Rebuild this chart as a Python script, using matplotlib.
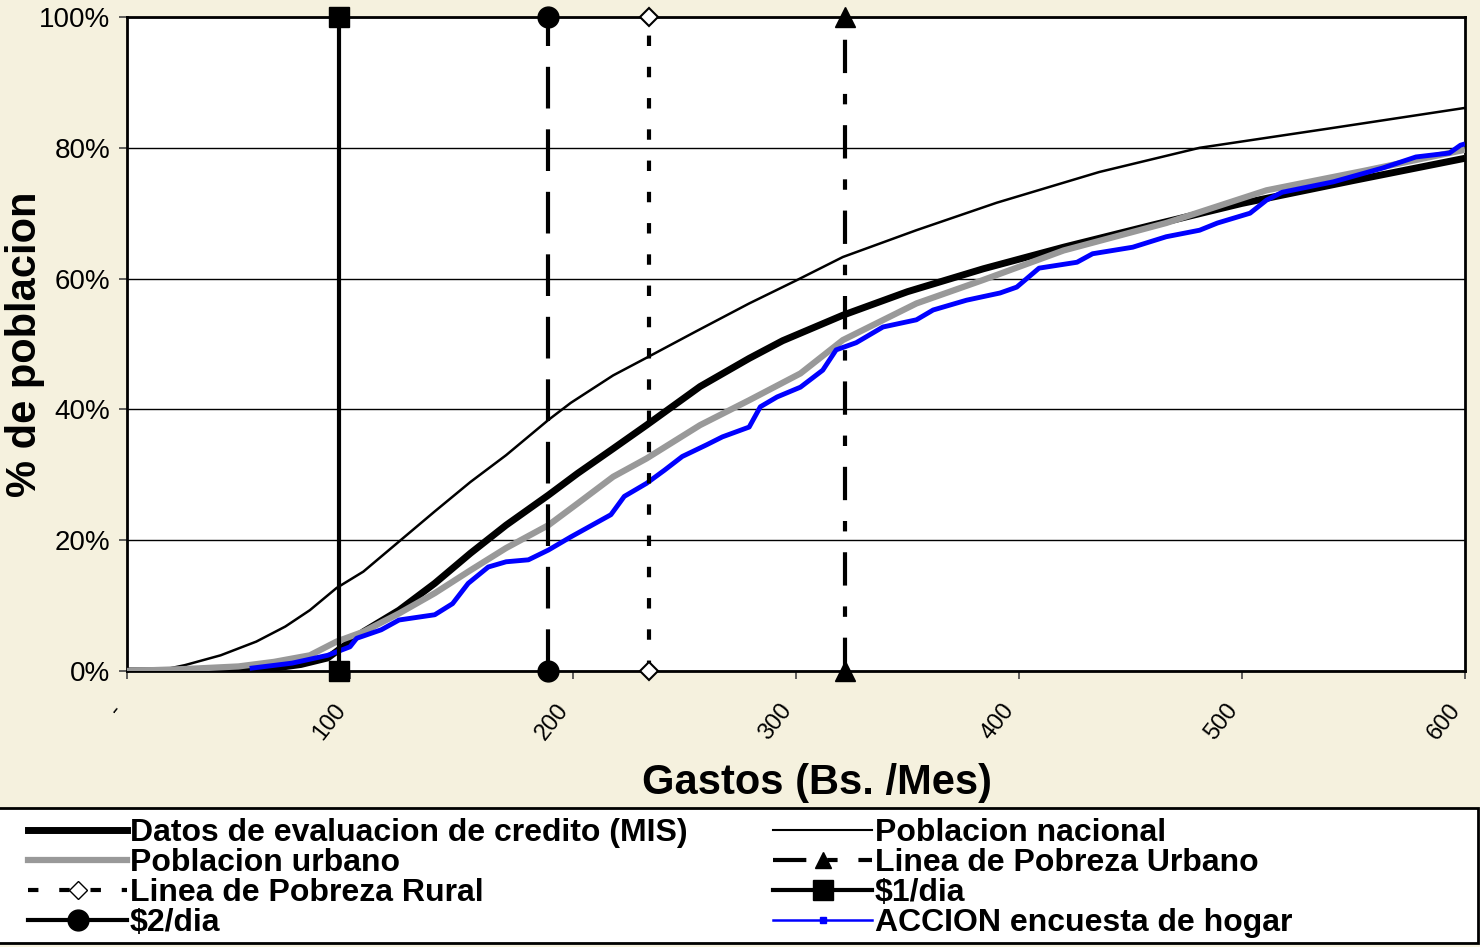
import matplotlib
matplotlib.use('Agg')
import matplotlib.pyplot as plt
from matplotlib.lines import Line2D
from matplotlib.patches import Rectangle

# curvas acumuladas (Gastos Bs./Mes -> % poblacion)
x_nac = [0, 15, 26, 42, 58, 71, 82, 94, 106, 122, 138, 154, 170, 189, 199, 218, 233, 255, 279, 300,
         321, 354, 390, 436, 481, 540, 600]
y_nac = [0, 0.1, 0.9, 2.4, 4.5, 6.8, 9.3, 12.7, 15.2, 19.8, 24.4, 28.9, 33.0, 38.4, 41.0, 45.2, 47.9, 51.9,
         56.2, 59.7, 63.3, 67.4, 71.6, 76.3, 80.0, 83.0, 86.1]

x_mis = [0, 40, 63, 78, 90, 106, 122, 138, 154, 170, 189, 202, 218, 233, 257, 279, 294, 321, 350, 384,
         420, 460, 500, 550, 600]
y_mis = [0, 0, 0.3, 1.0, 2.0, 6.0, 9.3, 13.4, 18.0, 22.3, 26.9, 30.2, 34.0, 37.6, 43.5, 47.8, 50.5, 54.4,
         58.0, 61.5, 64.8, 68.2, 71.5, 75.0, 78.4]

x_urb = [0, 26, 50, 66, 82, 94, 106, 122, 138, 154, 170, 189, 202, 218, 233, 257, 279, 302, 321, 354,
         384, 420, 466, 511, 555, 600]
y_urb = [0, 0.3, 0.7, 1.4, 2.4, 4.5, 6.0, 8.8, 11.9, 15.4, 18.8, 22.3, 25.6, 29.7, 32.5, 37.6, 41.4, 45.5,
         50.6, 56.2, 59.8, 64.3, 68.5, 73.5, 76.5, 79.7]

x_acc = [55, 74, 90, 100, 103, 114, 122, 138, 146, 153, 162, 170, 180, 189, 199, 217, 223, 233, 241,
         249, 260, 267, 279, 284, 291.5, 302, 312, 318, 327, 339, 354, 361.5, 376.5, 391.5, 399,
         409, 426, 433, 451, 466, 481, 489, 503.6, 511, 518, 541, 563, 578, 593, 598, 600]
y_acc = [0.4, 1.2, 2.4, 3.7, 5.0, 6.3, 7.8, 8.6, 10.3, 13.4, 15.9, 16.7, 17.0, 18.5, 20.5, 23.9, 26.7,
         28.7, 30.7, 32.8, 34.6, 35.8, 37.3, 40.4, 41.9, 43.4, 46.0, 49.1, 50.2, 52.6, 53.7, 55.2, 56.7,
         57.8, 58.7, 61.6, 62.5, 63.8, 64.8, 66.4, 67.4, 68.5, 70.0, 72.0, 73.2, 74.8, 76.9, 78.6, 79.2,
         80.4, 80.6]

# lineas de referencia
un_dolar = 95
dos_dolar = 189
pobreza_rural = 234
pobreza_urbano = 322

xticks = [0, 100, 200, 300, 400, 500, 600]
xlabels = ['-', '100', '200', '300', '400', '500', '600']
yticks = [0, 20, 40, 60, 80, 100]
ylabels = ['0%', '20%', '40%', '60%', '80%', '100%']

fondo = '#F5F1DE'
W, H = 1480, 947

fig = plt.figure(figsize=(14.8, 9.47), dpi=100, facecolor=fondo)
ax = fig.add_axes([127 / W, 1 - 671 / H, (1465 - 127) / W, (671 - 17) / H])
ax.set_facecolor('white')

# curvas
ax.plot(x_nac, y_nac, color='black', lw=1.8, zorder=3)
ax.plot(x_mis, y_mis, color='black', lw=5, zorder=2, solid_capstyle='butt')
ax.plot(x_urb, y_urb, color='#999999', lw=4.5, zorder=3, solid_capstyle='butt')
ax.plot(x_acc, y_acc, color='#0000FF', lw=3.5, zorder=4, solid_capstyle='butt')

# lineas verticales
ax.plot([un_dolar, un_dolar], [0, 100], color='black', lw=3, marker='s', ms=15,
        clip_on=False, zorder=6)
ax.plot([dos_dolar, dos_dolar], [0, 100], color='black', lw=3, ls=(0, (10, 5)),
        marker='o', ms=15, clip_on=False, zorder=6)
ax.plot([pobreza_rural, pobreza_rural], [0, 100], color='black', lw=3, ls=(0, (2.5, 5)),
        marker='D', ms=9.5, mfc='white', mec='black', mew=1.5, clip_on=False, zorder=6)
ax.plot([pobreza_urbano, pobreza_urbano], [0, 100], color='black', lw=3, ls=(0, (8, 5, 2.5, 5)),
        marker='^', ms=15, clip_on=False, zorder=6)

ax.set_xlim(0, 600)
ax.set_ylim(0, 100)
ax.set_yticks(yticks)
ax.set_yticklabels(ylabels, fontsize=20, family='Liberation Sans')
ax.set_xticks(xticks)
ax.set_xticklabels(xlabels, fontsize=17, family='Liberation Sans', rotation=52,
                   ha='right', va='bottom', rotation_mode='anchor')
ax.tick_params(axis='both', direction='out', length=6, width=1.2, color='#444444')
ax.tick_params(axis='y', pad=6)
ax.tick_params(axis='x', pad=24)
ax.grid(axis='y', color='black', lw=1)
ax.set_axisbelow(True)
for s in ax.spines.values():
    s.set_linewidth(2)
    s.set_color('black')

fig.text(817 / W, 1 - 783 / H, 'Gastos (Bs. /Mes)', fontsize=30, weight='bold',
         family='Liberation Sans', ha='center', va='center')
fig.text(25 / W, 1 - 344 / H, '% de poblacion', fontsize=30, weight='bold',
         family='Liberation Sans', ha='center', va='center', rotation=90)

# caja de leyenda
fig.patches.append(Rectangle((-2 / W, 4 / H), 1480 / W, 135 / H, transform=fig.transFigure,
                             facecolor='white', edgecolor='black', lw=2, zorder=0))

handles = [
    Line2D([], [], color='black', lw=5),
    Line2D([], [], color='#999999', lw=4.5),
    Line2D([], [], color='black', lw=3, ls=(0, (2.5, 5)), marker='D', ms=9.5, mfc='white', mec='black'),
    Line2D([], [], color='black', lw=3, marker='o', ms=15),
    Line2D([], [], color='black', lw=1.5),
    Line2D([], [], color='black', lw=3, ls=(0, (8, 5, 2.5, 5)), marker='^', ms=12),
    Line2D([], [], color='black', lw=3, marker='s', ms=15),
    Line2D([], [], color='#0000FF', lw=1.8, marker='s', ms=4),
]
labels = ['Datos de evaluacion de credito (MIS)', 'Poblacion urbano', 'Linea de Pobreza Rural', '$2/dia',
          'Poblacion nacional', 'Linea de Pobreza Urbano', '$1/dia', 'ACCION encuesta de hogar']
fig.legend(handles, labels, loc='upper left', bbox_to_anchor=(28 / W, 1 - 818 / H), ncol=2,
           frameon=False, prop={'family': 'Liberation Sans', 'weight': 'bold', 'size': 23},
           handlelength=3.1, handletextpad=0.08, columnspacing=2.7, labelspacing=0.0,
           borderpad=0, borderaxespad=0)

fig.savefig('out.png', dpi=100, facecolor=fondo)
